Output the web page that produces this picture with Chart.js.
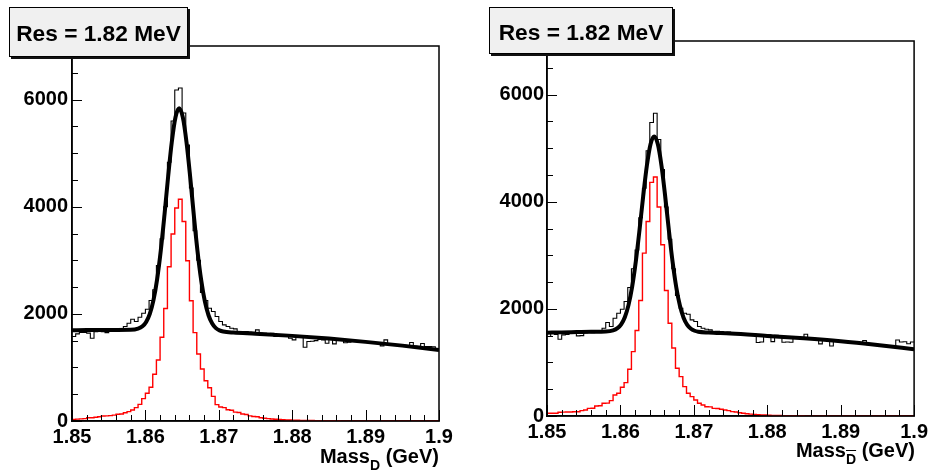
<!DOCTYPE html>
<html>
<head>
<meta charset="utf-8">
<script src="https://cdn.jsdelivr.net/npm/chart.js@4/dist/chart.umd.min.js"></script>
<style>
  body { margin: 0; background: #fff; }
  #wrap { position: relative; width: 932px; height: 474px; overflow: hidden; font-family: 'Liberation Sans', Arial, sans-serif; }
  canvas { position: absolute; top: 0; }
  .res { position: absolute; box-sizing: border-box; background: #f0f0f0; border: 1px solid #000;
         box-shadow: 2px 2px 0 #111; font-weight: bold; font-size: 22.7px; color: #000;
         display: flex; align-items: center; justify-content: center; white-space: nowrap; }
  .axt { position: absolute; font-weight: bold; font-size: 20px; line-height: 20px; color: #000; white-space: nowrap; }
  .axt sub { font-size: 14px; vertical-align: -7px; line-height: 0; }
  .bar { text-decoration: overline; }
</style>
</head>
<body>
<div id="wrap">
  <canvas id="panelD" width="466" height="474" style="left:0"></canvas>
  <canvas id="panelDbar" width="466" height="474" style="left:466px"></canvas>
  <div class="res" style="left:9px; top:7px; width:179px; height:50px; padding-top:2px;">Res = 1.82 MeV</div>
  <div class="res" style="left:489px; top:7px; width:184px; height:47px; padding-top:3px;">Res = 1.82 MeV</div>
  <div class="axt" style="right:493px; top:446px;">Mass<sub>D</sub> (GeV)</div>
  <div class="axt" style="right:17px; top:440px;">Mass<sub><span class="bar">D</span></sub> (GeV)</div>
</div>
<script>
// Histogram binning: 100 bins of 0.5 MeV from 1.85 GeV
const binLow = 1.85;
const binWidth = 0.0005;

// Tick labels
const xTicks = [1.85, 1.86, 1.87, 1.88, 1.89, 1.9];
const yTicks = [0, 2000, 4000, 6000];

// D panel: data (black) and signal MC (red), per bin
const dataD = [
  1576, 1626, 1651, 1655, 1640, 1545, 1669, 1672, 1665, 1650,
  1688, 1680, 1690, 1700, 1763, 1826, 1900, 1857, 1937, 2012,
  2087, 2250, 2450, 2900, 3400, 4000, 4830, 5600, 6180, 6215,
  5750, 5150, 4350, 3550, 3000, 2400, 2250, 2106, 2044, 1950,
  1857, 1794, 1763, 1732, 1720, 1669, 1665, 1672, 1660, 1657,
  1701, 1640, 1638, 1630, 1635, 1576, 1600, 1595, 1590, 1545,
  1514, 1580, 1560, 1377, 1483, 1490, 1500, 1520, 1515, 1452,
  1520, 1439, 1510, 1505, 1460, 1470, 1500, 1495, 1485, 1480,
  1475, 1470, 1465, 1460, 1402, 1514, 1430, 1425, 1420, 1418,
  1415, 1410, 1464, 1400, 1395, 1448, 1390, 1389, 1385, 1327
];
const mcD = [
  30, 35, 40, 45, 60, 62, 70, 80, 93, 95,
  100, 110, 125, 130, 155, 175, 206, 249, 311, 417,
  517, 630, 872, 1140, 1564, 2100, 2880, 3490, 3975, 4140,
  3725, 2990, 2245, 1650, 1250, 970, 750, 620, 460, 305,
  260, 250, 210, 200, 165, 160, 130, 120, 95, 85,
  80, 60, 50, 45, 38, 32, 28, 24, 20, 18,
  15, 14, 12, 10, 9, 8, 7, 6, 6, 5,
  5, 4, 4, 3, 3, 3, 2, 2, 2, 2,
  2, 2, 1, 1, 1, 1, 1, 1, 1, 1,
  1, 1, 1, 1, 1, 1, 1, 1, 1, 1
];

// Dbar panel: data (black) and signal MC (red), per bin
const dataDbar = [
  1483, 1545, 1520, 1433, 1514, 1520, 1545, 1540, 1495, 1500,
  1557, 1560, 1555, 1595, 1590, 1638, 1745, 1670, 1826, 1919,
  1994, 2137, 2400, 2750, 3100, 3700, 4250, 4950, 5480, 5650,
  5160, 4600, 3900, 3300, 2750, 2250, 2012, 1919, 1900, 1794,
  1763, 1670, 1638, 1620, 1607, 1576, 1580, 1576, 1560, 1565,
  1545, 1540, 1545, 1533, 1540, 1535, 1530, 1371, 1380, 1520,
  1515, 1389, 1505, 1500, 1377, 1380, 1377, 1480, 1470, 1452,
  1526, 1440, 1450, 1445, 1346, 1430, 1425, 1308, 1415, 1410,
  1400, 1395, 1360, 1385, 1380, 1365, 1408, 1330, 1345, 1340,
  1330, 1320, 1310, 1305, 1300, 1420, 1380, 1385, 1350, 1380
];
const mcDbar = [
  50, 50, 52, 70, 72, 75, 75, 78, 80, 100,
  112, 143, 145, 187, 190, 237, 240, 287, 392, 424,
  536, 623, 872, 1202, 1595, 2156, 3040, 3632, 4361, 4460,
  3900, 3196, 2342, 1732, 1270, 891, 735, 548, 424, 361,
  299, 237, 206, 174, 170, 143, 140, 125, 112, 100,
  81, 75, 60, 50, 42, 35, 30, 25, 20, 18,
  15, 12, 10, 8, 7, 6, 5, 5, 4, 4,
  3, 3, 3, 2, 2, 2, 2, 2, 1, 1,
  1, 1, 1, 1, 1, 1, 1, 1, 1, 1,
  1, 1, 1, 1, 1, 1, 1, 1, 1, 1
];

// Fit curves
const fitX = [
  1.85, 1.852, 1.854, 1.856, 1.858, 1.859,
  1.8596, 1.8601, 1.8606, 1.8611, 1.8616, 1.8621, 1.8626, 1.8631, 1.8636, 1.8641, 1.8646,
  1.8651, 1.8656, 1.8661, 1.8666, 1.8671, 1.8676, 1.8681, 1.8686, 1.8691, 1.8696,
  1.8701, 1.8706, 1.872, 1.875, 1.88, 1.885, 1.89, 1.895, 1.9
];
const fitD = [
  1693, 1697, 1699, 1700, 1702, 1723,
  1767, 1849, 2001, 2255, 2649, 3187, 3850, 4566, 5212, 5671, 5836,
  5668, 5205, 4556, 3836, 3170, 2629, 2232, 1974, 1819, 1734,
  1692, 1671, 1651, 1630, 1589, 1538, 1477, 1407, 1327
];
const fitDbar = [
  1555, 1561, 1566, 1571, 1577, 1599,
  1640, 1712, 1845, 2070, 2415, 2889, 3472, 4102, 4670, 5074, 5219,
  5073, 4668, 4098, 3467, 2883, 2408, 2061, 1835, 1701, 1628,
  1591, 1573, 1558, 1540, 1495, 1450, 1395, 1325, 1246
];

Chart.defaults.font.family = "'Liberation Sans', Arial, sans-serif";
Chart.defaults.font.size = 20;
Chart.defaults.font.weight = 'bold';
Chart.defaults.color = '#000';

// turn a bin array into step points (left edges + closing edge)
function histPoints(values) {
  const pts = values.map((v, i) => ({ x: binLow + i * binWidth, y: v }));
  pts.push({ x: binLow + values.length * binWidth, y: values[values.length - 1] });
  return pts;
}

// ROOT-like frame with ticks pointing inwards
const frameTicks = {
  id: 'frameTicks',
  afterDatasetsDraw(chart) {
    const { ctx, chartArea: a, scales: { x, y } } = chart;
    ctx.save();
    ctx.strokeStyle = '#000';
    ctx.lineWidth = 1;
    const nx = Math.round((x.max - x.min) / 0.002);
    for (let k = 0; k <= nx; k++) {
      const px = Math.round(x.getPixelForValue(x.min + k * 0.002)) + 0.5;
      const len = k % 5 === 0 ? 11 : 6;
      ctx.beginPath();
      ctx.moveTo(px, a.bottom);
      ctx.lineTo(px, a.bottom - len);
      ctx.stroke();
    }
    const ny = Math.round((y.max - y.min) / 500);
    for (let k = 0; k <= ny; k++) {
      const py = Math.round(y.getPixelForValue(y.min + k * 500)) + 0.5;
      const len = k % 4 === 0 ? 10 : 6;
      ctx.beginPath();
      ctx.moveTo(a.left, py);
      ctx.lineTo(a.left + len, py);
      ctx.stroke();
    }
    ctx.lineWidth = 1.5;
    ctx.strokeRect(a.left, a.top, a.right - a.left, a.bottom - a.top);
    ctx.restore();
  }
};

function makePanel(id, data, mc, fit, box) {
  return new Chart(document.getElementById(id), {
    type: 'line',
    data: {
      datasets: [
        { data: histPoints(mc), stepped: true, borderColor: '#ff0000', borderWidth: 1.4, pointRadius: 0 },
        { data: fitX.map((x, i) => ({ x: x, y: fit[i] })), cubicInterpolationMode: 'monotone',
          borderColor: '#000', borderWidth: 4, pointRadius: 0 },
        { data: histPoints(data), stepped: true, borderColor: '#000', borderWidth: 1.1, pointRadius: 0 }
      ]
    },
    options: {
      responsive: false,
      animation: false,
      layout: { padding: { left: 0, top: box.top, right: box.right, bottom: 0 } },
      plugins: { legend: { display: false }, tooltip: { enabled: false } },
      scales: {
        x: {
          type: 'linear', min: 1.85, max: 1.9,
          afterBuildTicks: s => { s.ticks = xTicks.map(v => ({ value: v })); },
          afterFit: s => { s.height = box.bottom; },
          ticks: { autoSkip: false, maxRotation: 0, padding: 4, callback: v => String(v) },
          grid: { display: true, drawOnChartArea: false, drawTicks: false },
          border: { display: true, color: '#000', width: 1.5 }
        },
        y: {
          min: 0, max: 7000,
          afterBuildTicks: s => { s.ticks = yTicks.map(v => ({ value: v })); },
          afterFit: s => { s.width = box.left; },
          ticks: { padding: box.lpad, callback: v => String(v) },
          grid: { display: true, drawOnChartArea: false, drawTicks: false },
          border: { display: true, color: '#000', width: 1.5 }
        }
      }
    },
    plugins: [frameTicks]
  });
}

makePanel('panelD', dataD, mcD, fitD, { left: 72, right: 27, top: 46, bottom: 53, lpad: 4 });
makePanel('panelDbar', dataDbar, mcDbar, fitDbar, { left: 81, right: 17, top: 41, bottom: 58, lpad: 3 });
</script>
</body>
</html>
